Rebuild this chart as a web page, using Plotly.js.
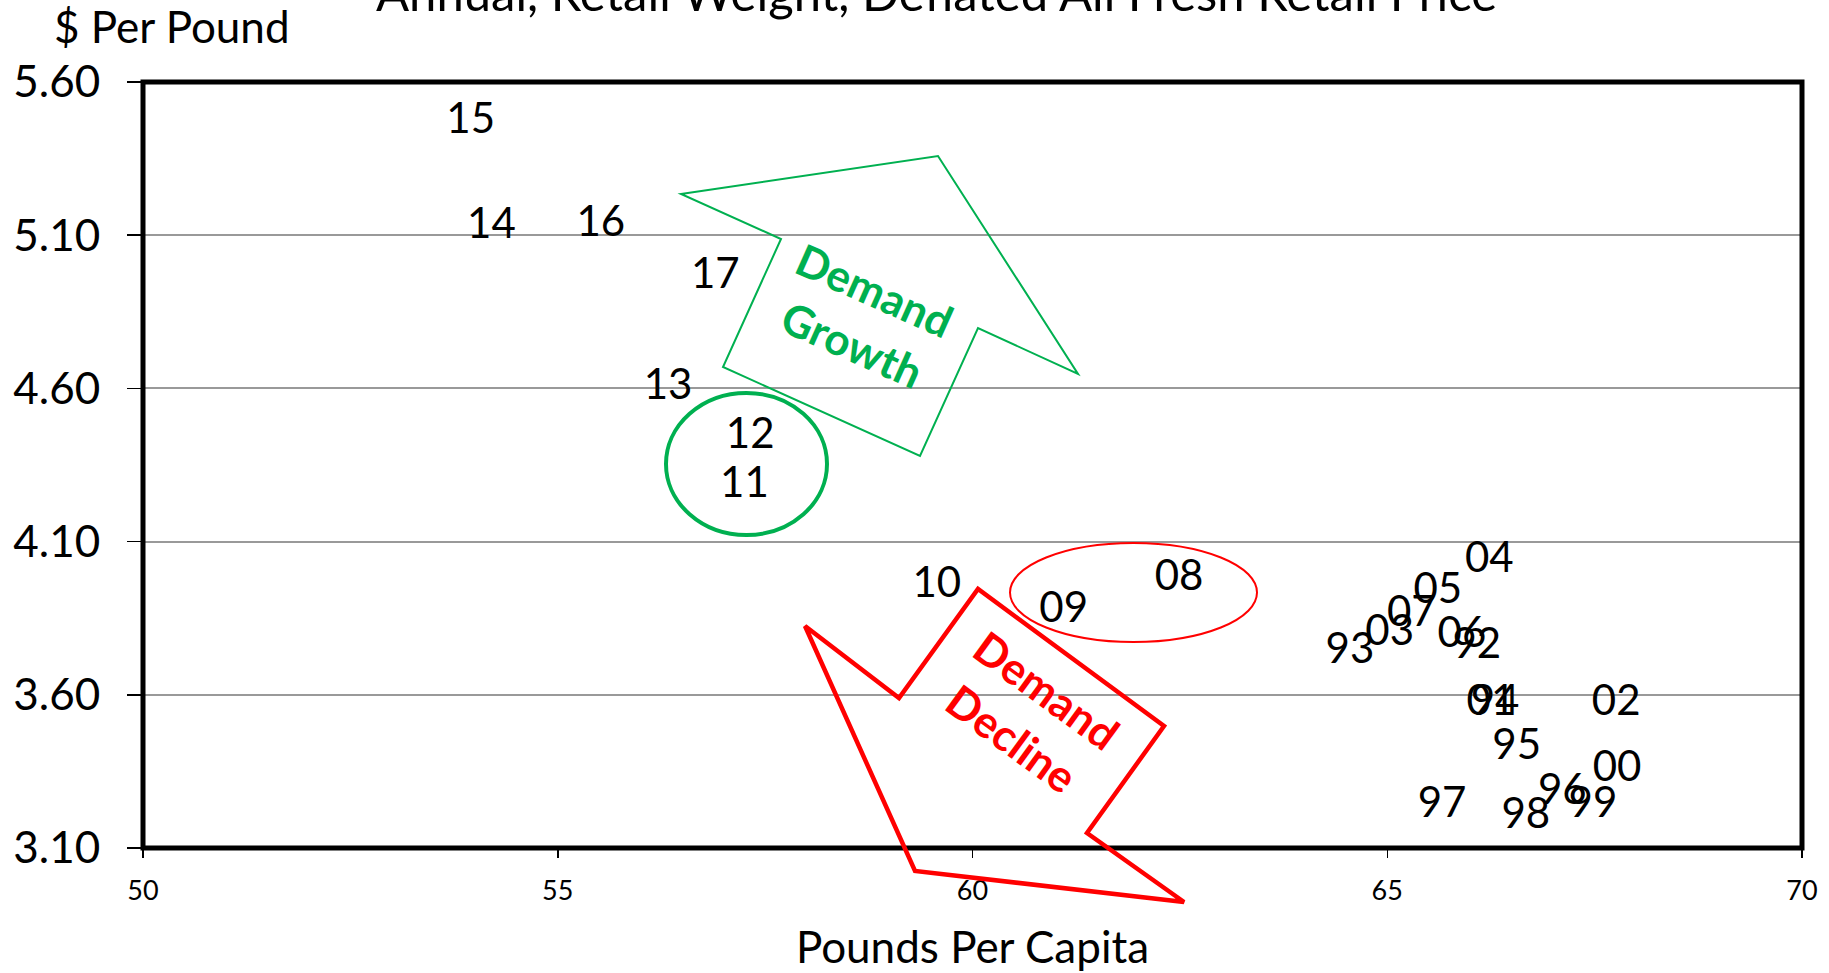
<!DOCTYPE html>
<html>
<head>
<meta charset="utf-8">
<script src="https://cdn.plot.ly/plotly-3.0.1.min.js"></script>
<style>html,body{margin:0;padding:0;background:#fff;}#chart{width:1829px;height:973px;}</style>
</head>
<body>
<div id="chart"></div>
<script>
// ---- data ----
const years = ["92","93","94","95","96","97","98","99","00","01","02","03","04","05","06","07","08","09","10","11","12","13","14","15","16","17"];
const poundsPerCapita = [66.08,64.55,66.30,66.56,67.11,65.66,66.67,67.48,67.77,66.25,67.76,65.03,66.23,65.61,65.90,65.29,62.49,61.10,59.57,57.25,57.32,56.33,54.20,53.95,55.52,56.90];
const pricePerPound = [3.754,3.738,3.568,3.425,3.278,3.235,3.199,3.235,3.353,3.568,3.568,3.796,4.035,3.935,3.790,3.858,3.976,3.872,3.953,4.280,4.439,4.599,5.125,5.468,5.131,4.962];
const yTicks = [3.10,3.60,4.10,4.60,5.10,5.60];
const xTicks = [50,55,60,65,70];

// ---- layout geometry (pixels) ----
const W = 1829, H = 973;
const L = 143, R = 1802, T = 82, B = 848;
const px = x => (x - L) / (R - L);
const py = y => (B - y) / (B - T);
const path = pts => 'M' + pts.map(p => px(p[0]) + ',' + py(p[1])).join('L') + 'Z';

const green = '#00b050', red = '#ff0000';
const font = 'Lato, "Open Sans", sans-serif';

const greenArrow = [[681,194],[938,156],[1078,374],[978,328],[920,456],[723,367],[781,239]];
const redArrow = [[805,626],[899,698],[978,589],[1164,726],[1087,833],[1184,902],[915,871]];

const trace = {
  x: poundsPerCapita, y: pricePerPound, text: years,
  mode: 'text', type: 'scatter', textposition: 'middle center',
  textfont: {family: font, size: 42, color: '#000'},
  cliponaxis: false, hoverinfo: 'x+y+text', showlegend: false
};

const layout = {
  width: W, height: H,
  margin: {l: L, r: W - R, t: T, b: H - B, pad: 0},
  paper_bgcolor: '#fff', plot_bgcolor: '#fff',
  font: {family: font, color: '#000'},
  showlegend: false,
  xaxis: {
    range: [50, 70], tickvals: xTicks, ticktext: xTicks.map(String),
    showgrid: false, zeroline: false, showline: false,
    ticks: 'outside', ticklen: 9, tickwidth: 1.5, tickcolor: '#000',
    ticklabelstandoff: 10,
    tickfont: {family: font, size: 27, color: '#000'},
    title: {text: 'Pounds Per Capita', font: {family: font, size: 44, color: '#000'}, standoff: 26}
  },
  yaxis: {
    range: [3.1, 5.6], tickvals: yTicks, ticktext: yTicks.map(v => v.toFixed(2)),
    showgrid: true, gridcolor: '#999999', gridwidth: 2,
    zeroline: false, showline: false,
    ticks: 'outside', ticklen: 15, tickwidth: 1.5, tickcolor: '#000',
    ticklabelstandoff: 18,
    tickfont: {family: font, size: 44, color: '#000'},
    title: {text: ''}
  },
  shapes: [
    {type: 'rect', xref: 'paper', yref: 'paper', x0: 0, x1: 1, y0: 0, y1: 1, line: {color: '#000', width: 5}, layer: 'above'},
    {type: 'path', xref: 'paper', yref: 'paper', path: path(greenArrow), line: {color: green, width: 2}, layer: 'above'},
    {type: 'circle', xref: 'paper', yref: 'paper', x0: px(666), x1: px(827), y0: py(535), y1: py(393), line: {color: green, width: 4}, layer: 'above'},
    {type: 'circle', xref: 'paper', yref: 'paper', x0: px(1010), x1: px(1257), y0: py(642), y1: py(543), line: {color: red, width: 2}, layer: 'above'},
    {type: 'path', xref: 'paper', yref: 'paper', path: path(redArrow), line: {color: red, width: 4.5}, layer: 'above'}
  ],
  annotations: [
    {text: 'Annual, Retail Weight, Deflated All Fresh Retail Price', xref: 'paper', yref: 'paper', x: px(936), y: py(-8), xanchor: 'center', yanchor: 'middle', showarrow: false, font: {family: font, size: 49, color: '#000'}},
    {text: '$ Per Pound', xref: 'paper', yref: 'paper', x: px(52), y: py(26), xanchor: 'left', yanchor: 'middle', showarrow: false, font: {family: font, size: 44, color: '#000'}},
    {text: '<b>Demand</b>', xref: 'paper', yref: 'paper', x: px(875), y: py(290), xanchor: 'center', yanchor: 'middle', textangle: 24, showarrow: false, font: {family: font, size: 44, color: green}},
    {text: '<b>Growth</b>', xref: 'paper', yref: 'paper', x: px(852), y: py(344), xanchor: 'center', yanchor: 'middle', textangle: 24, showarrow: false, font: {family: font, size: 44, color: green}},
    {text: '<b>Demand</b>', xref: 'paper', yref: 'paper', x: px(1047), y: py(690), xanchor: 'center', yanchor: 'middle', textangle: 36, showarrow: false, font: {family: font, size: 44, color: red}},
    {text: '<b>Decline</b>', xref: 'paper', yref: 'paper', x: px(1012), y: py(738), xanchor: 'center', yanchor: 'middle', textangle: 36, showarrow: false, font: {family: font, size: 44, color: red}}
  ]
};

Plotly.newPlot('chart', [trace], layout, {staticPlot: true, displayModeBar: false});
</script>
</body>
</html>
